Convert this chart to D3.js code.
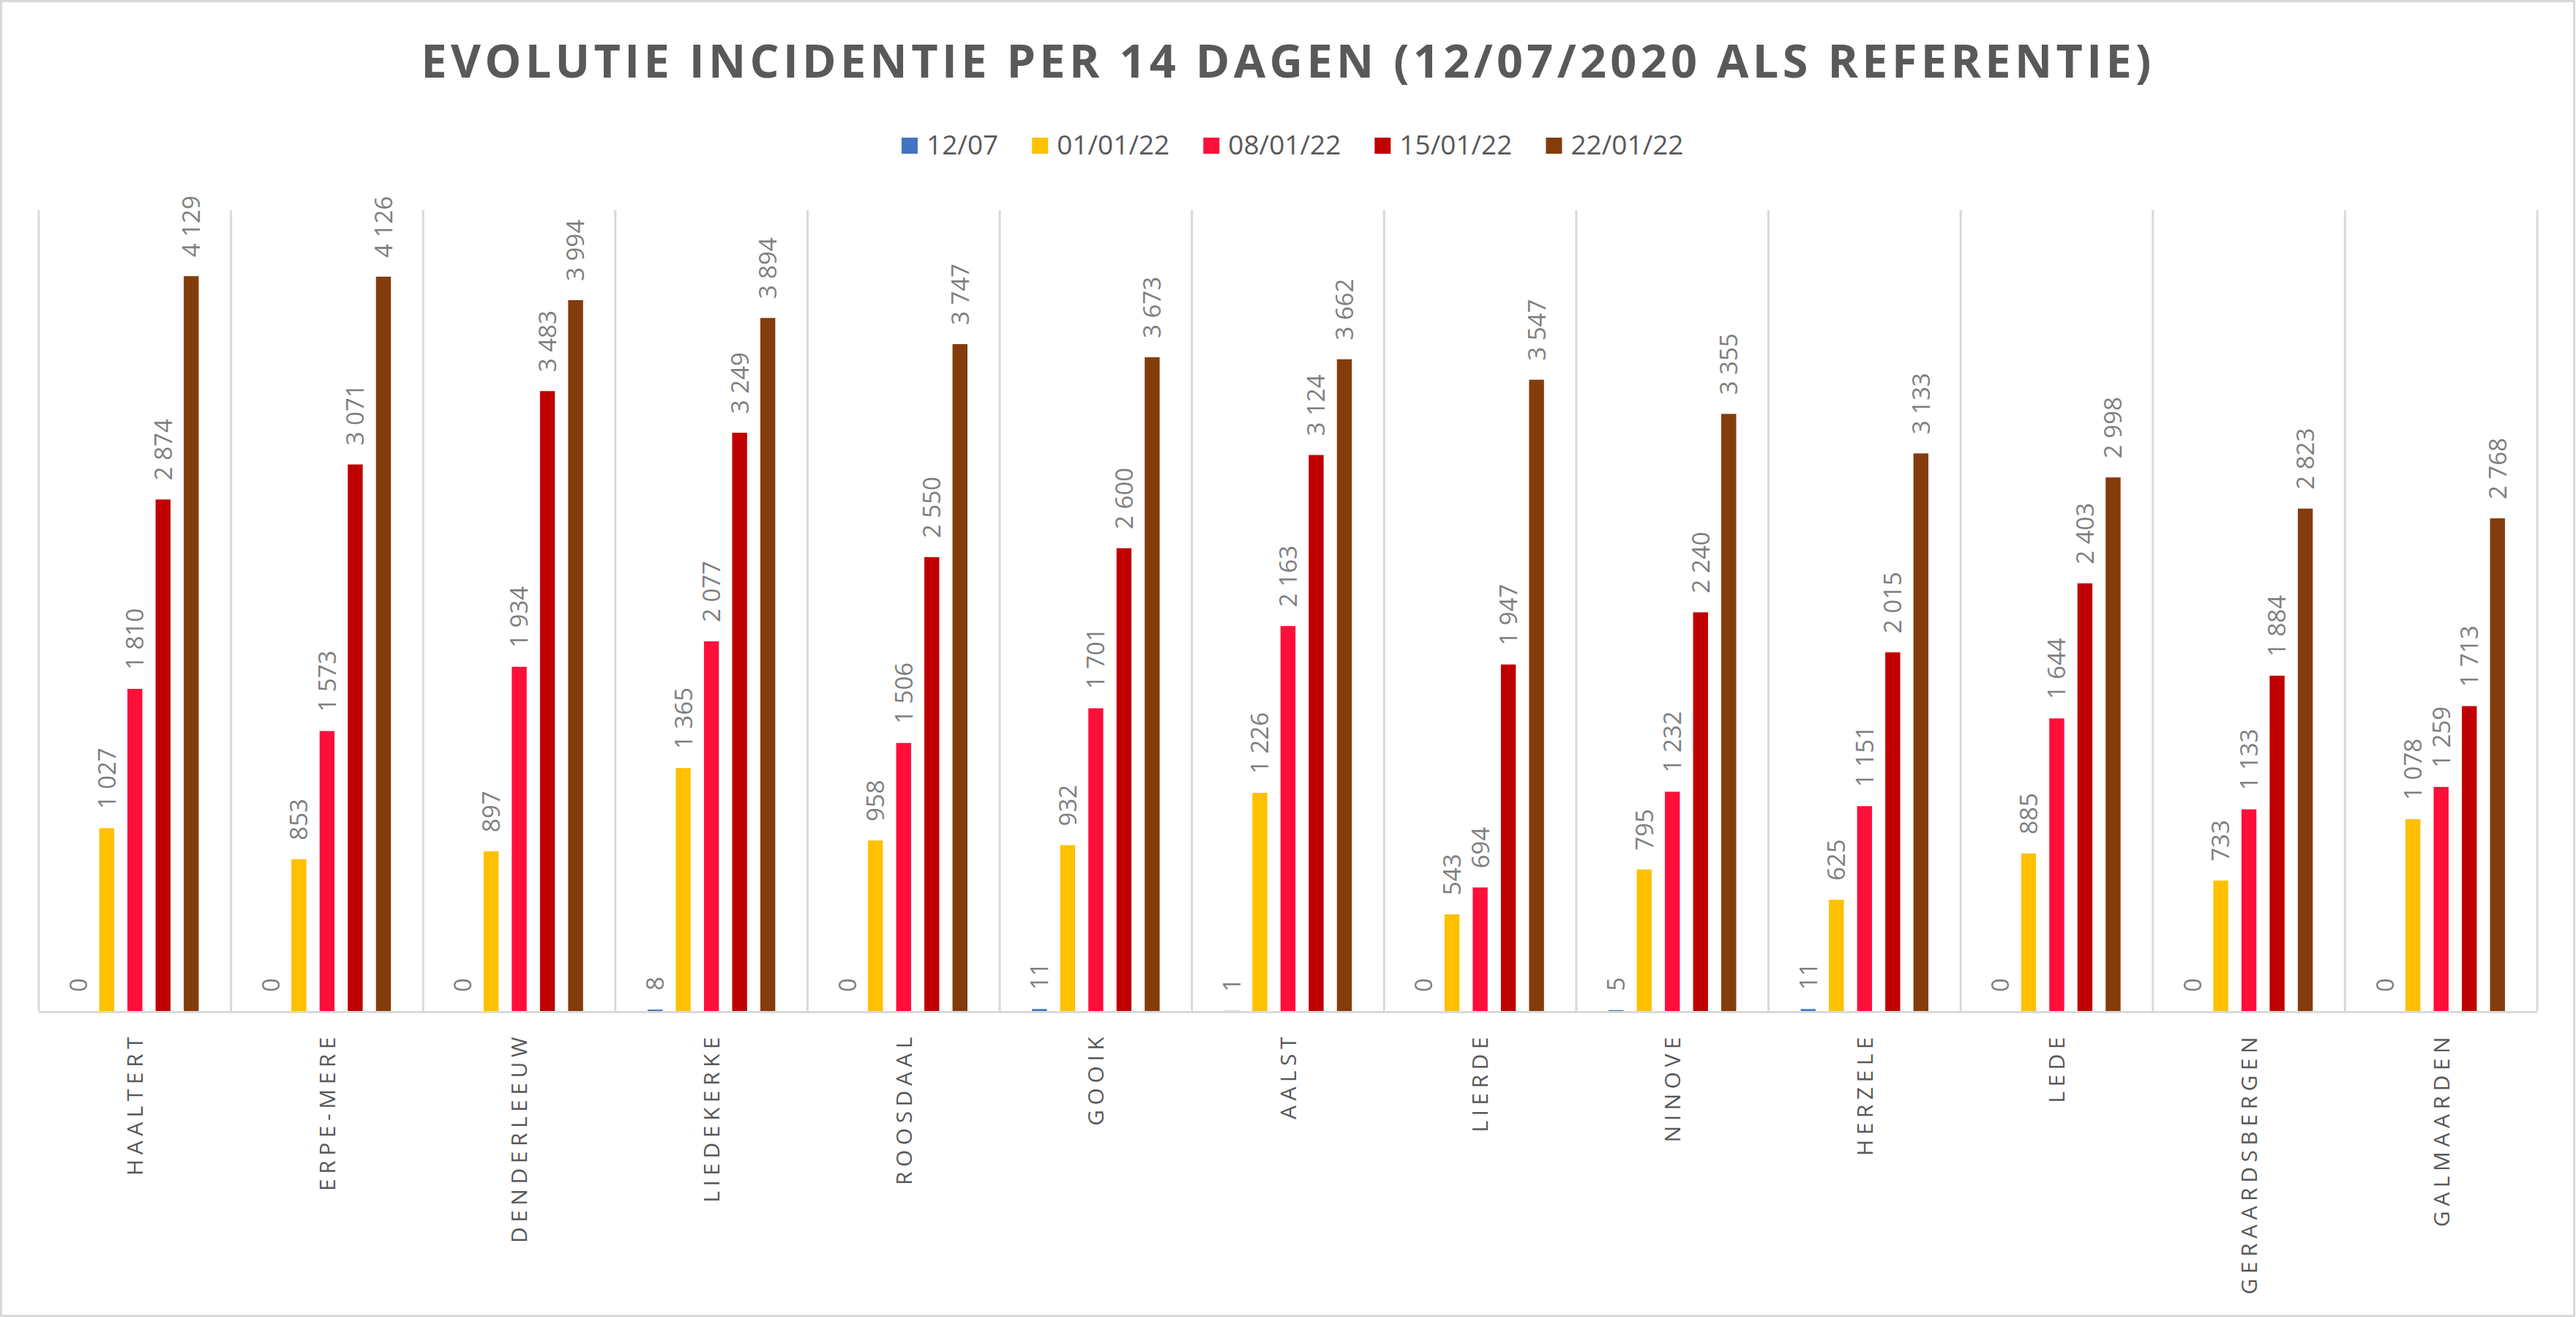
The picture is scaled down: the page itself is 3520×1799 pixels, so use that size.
<!DOCTYPE html>
<html>
<head>
<meta charset="utf-8">
<script src="https://cdn.jsdelivr.net/npm/d3@7"></script>
<style>
	html, body { margin: 0; padding: 0; background: #fff; }
	svg { display: block; font-family: 'Open Sans', 'Noto Sans', sans-serif; }
</style>
</head>
<body>
<svg id="chart" width="3520" height="1799"></svg>
<script>
const gemeenten = ['HAALTERT', 'ERPE-MERE', 'DENDERLEEUW', 'LIEDEKERKE', 'ROOSDAAL', 'GOOIK', 'AALST', 'LIERDE', 'NINOVE', 'HERZELE', 'LEDE', 'GERAARDSBERGEN', 'GALMAARDEN'];
const reeksen = ['12/07', '01/01/22', '08/01/22', '15/01/22', '22/01/22'];
const kleuren = ['#4472C4', '#FFC000', '#FF0F3A', '#C00000', '#843C0C'];

const w1207 = [0, 0, 0, 8, 0, 11, 1, 0, 5, 11, 0, 0, 0];
const w0101 = [1027, 853, 897, 1365, 958, 932, 1226, 543, 795, 625, 885, 733, 1078];
const w0801 = [1810, 1573, 1934, 2077, 1506, 1701, 2163, 694, 1232, 1151, 1644, 1133, 1259];
const w1501 = [2874, 3071, 3483, 3249, 2550, 2600, 3124, 1947, 2240, 2015, 2403, 1884, 1713];
const w2201 = [4129, 4126, 3994, 3894, 3747, 3673, 3662, 3547, 3355, 3133, 2998, 2823, 2768];
const yMax = 4500;

const titel = 'EVOLUTIE INCIDENTIE PER 14 DAGEN (12/07/2020 ALS REFERENTIE)';

const waarden = [w1207, w0101, w0801, w1501, w2201];

const width = 3520;
const height = 1799;
const margins = { t: 287, b: 418, l: 53, r: 53 };
const plotwidth = width - margins.l - margins.r;
const plotheight = height - margins.t - margins.b;

const fmt = d3.formatLocale({ decimal: ',', thousands: '\u00a0', grouping: [3], currency: ['', ''] }).format(',d');

const svg = d3.select('#chart');

// chart border
svg.append('rect')
	.attr('x', 1.5).attr('y', 1.5)
	.attr('width', width - 4).attr('height', height - 3)
	.attr('fill', '#fff')
	.attr('stroke', '#d9d9d9')
	.attr('stroke-width', 3);

const xScale = d3.scaleBand().domain(gemeenten).range([0, plotwidth]);
const inner = d3.scaleBand().domain(reeksen).range([0, xScale.bandwidth()])
	.paddingInner(0.47).paddingOuter(1.145);
const yScale = d3.scaleLinear().domain([0, yMax]).range([plotheight, 0]);

const plotg = svg.append('g').attr('transform', `translate(${margins.l}, ${margins.t})`);

// vertical category gridlines
const grenzen = gemeenten.map(g => xScale(g)).concat([plotwidth]);
plotg.selectAll('.grid')
	.data(grenzen)
	.join('line')
	.attr('class', 'grid')
	.attr('x1', d => d).attr('x2', d => d)
	.attr('y1', 0).attr('y2', plotheight)
	.attr('stroke', '#d9d9d9')
	.attr('stroke-width', 3);

const bars = [];
gemeenten.forEach((g, i) => {
	reeksen.forEach((r, j) => {
		bars.push({ gemeente: g, reeks: r, j: j, v: waarden[j][i] });
	});
});

plotg.selectAll('.bar')
	.data(bars)
	.join('rect')
	.attr('class', 'bar')
	.attr('x', d => xScale(d.gemeente) + inner(d.reeks))
	.attr('y', d => yScale(d.v))
	.attr('width', inner.bandwidth())
	.attr('height', d => plotheight - yScale(d.v))
	.attr('fill', d => kleuren[d.j]);

// x axis line
plotg.append('line')
	.attr('x1', 0).attr('x2', plotwidth)
	.attr('y1', plotheight + 1.5).attr('y2', plotheight + 1.5)
	.attr('stroke', '#d9d9d9')
	.attr('stroke-width', 3);

plotg.selectAll('.label')
	.data(bars)
	.join('text')
	.attr('class', 'label')
	.attr('transform', d => `translate(${xScale(d.gemeente) + inner(d.reeks) + inner.bandwidth() / 2}, ${yScale(d.v) - 26}) rotate(-90)`)
	.attr('dy', '0.36em')
	.attr('text-anchor', 'start')
	.style('font-size', '33px')
	.style('fill', '#7f7f7f')
	.text(d => fmt(d.v));

plotg.selectAll('.cat')
	.data(gemeenten)
	.join('text')
	.attr('class', 'cat')
	.attr('transform', d => `translate(${xScale(d) + xScale.bandwidth() / 2}, ${plotheight + 29}) rotate(-90)`)
	.attr('dy', '0.36em')
	.attr('text-anchor', 'end')
	.style('font-size', '30px')
	.style('letter-spacing', '6.5px')
	.style('fill', '#595959')
	.text(d => d);

// title
const t = svg.append('text')
	.attr('x', width / 2)
	.attr('y', 106)
	.attr('text-anchor', 'middle')
	.style('font-size', '63px')
	.style('font-weight', 'bold')
	.style('fill', '#595959')
	.text(titel);
const tw = t.node().getComputedTextLength();
t.style('letter-spacing', `${(2364 - tw) / (titel.length - 1)}px`);

// legend
const legend = svg.append('g').attr('transform', 'translate(1232, 0)');
let lx = 0;
reeksen.forEach((r, j) => {
	const item = legend.append('g').attr('transform', `translate(${lx}, 0)`);
	item.append('rect')
		.attr('x', 0).attr('y', 188)
		.attr('width', 22).attr('height', 22)
		.attr('fill', kleuren[j]);
	const txt = item.append('text')
		.attr('x', 34).attr('y', 211)
		.style('font-size', '37px')
		.style('fill', '#595959')
		.text(r);
	lx += 34 + txt.node().getComputedTextLength() + 46;
});
</script>
</body>
</html>
